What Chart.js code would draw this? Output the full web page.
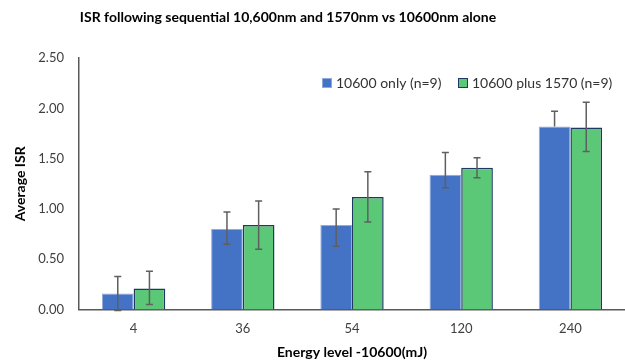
<!DOCTYPE html>
<html>
<head>
<meta charset="utf-8">
<script src="https://cdn.jsdelivr.net/npm/chart.js@4/dist/chart.umd.min.js"></script>
<style>
  body { margin: 0; background: #fff; }
  #wrap { width: 625px; height: 361px; }
</style>
</head>
<body>
<div id="wrap"><canvas id="isrChart" width="625" height="361"></canvas></div>
<script>
// data
const energyLevels = ['4', '36', '54', '120', '240'];
const only10600 = [0.16, 0.80, 0.84, 1.34, 1.82];
const only10600Up = [0.17, 0.17, 0.16, 0.22, 0.15];
const only10600Down = [0.17, 0.15, 0.21, 0.13, 0];
const plus1570 = [0.21, 0.84, 1.12, 1.41, 1.81];
const plus1570Up = [0.17, 0.24, 0.25, 0.10, 0.25];
const plus1570Down = [0.16, 0.24, 0.25, 0.10, 0.24];
const yTicks = [0, 0.5, 1, 1.5, 2, 2.5];

const titleText = 'ISR following sequential 10,600nm and 1570nm vs 10600nm alone';
const fontName = 'Lato, "Open Sans", sans-serif';

// error bars drawn from each bar's value through the y scale
const errorBarPlugin = {
    id: 'errorBars',
    afterDatasetsDraw(chart) {
        const ctx = chart.ctx;
        const yScale = chart.scales.y;
        chart.data.datasets.forEach((ds, di) => {
            const meta = chart.getDatasetMeta(di);
            meta.data.forEach((bar, i) => {
                const v = ds.data[i];
                const top = yScale.getPixelForValue(v + ds.errUp[i]);
                const bottom = yScale.getPixelForValue(v - ds.errDown[i]);
                ctx.save();
                ctx.strokeStyle = '#5f5f5f';
                ctx.lineWidth = 1.5;
                ctx.beginPath();
                ctx.moveTo(bar.x, top);
                ctx.lineTo(bar.x, bottom);
                ctx.moveTo(bar.x - 3.5, top);
                ctx.lineTo(bar.x + 3.5, top);
                if (ds.errDown[i] > 0) {
                    ctx.moveTo(bar.x - 3.5, bottom);
                    ctx.lineTo(bar.x + 3.5, bottom);
                }
                ctx.stroke();
                ctx.restore();
            });
        });
    }
};

// title sits a bit left of centre, legend sits inside the plot at top right
const textPlugin = {
    id: 'titleAndLegend',
    afterDraw(chart) {
        const ctx = chart.ctx;
        ctx.save();
        ctx.font = 'bold 14px ' + fontName;
        ctx.fillStyle = '#000';
        ctx.textAlign = 'center';
        ctx.textBaseline = 'middle';
        ctx.fillText(titleText, 288, 17);

        const legendX = [322, 458];
        const legendY = 83;
        ctx.font = '14px ' + fontName;
        ctx.textAlign = 'left';
        chart.data.datasets.forEach((ds, di) => {
            const x = legendX[di];
            ctx.fillStyle = ds.backgroundColor;
            ctx.fillRect(x, legendY - 5, 10, 10);
            ctx.strokeStyle = ds.borderColor;
            ctx.lineWidth = 1;
            ctx.strokeRect(x + 0.5, legendY - 4.5, 9, 9);
            ctx.fillStyle = '#333';
            ctx.fillText(ds.label, x + 14, legendY);
        });
        ctx.restore();
    }
};

const ctx = document.getElementById('isrChart').getContext('2d');
const isrChart = new Chart(ctx, {
    type: 'bar',
    data: {
        labels: energyLevels,
        datasets: [{
            label: '10600 only (n=9)',
            data: only10600,
            errUp: only10600Up,
            errDown: only10600Down,
            backgroundColor: '#4472C4',
            borderColor: '#8FAADC',
            borderWidth: 1
        }, {
            label: '10600 plus 1570 (n=9)',
            data: plus1570,
            errUp: plus1570Up,
            errDown: plus1570Down,
            backgroundColor: '#5BC878',
            borderColor: '#1F3864',
            borderWidth: 1.5
        }]
    },
    options: {
        responsive: false,
        animation: false,
        layout: {
            padding: { top: 58, left: 12, right: 0, bottom: 0 }
        },
        datasets: {
            bar: {
                categoryPercentage: 0.58,
                barPercentage: 1
            }
        },
        plugins: {
            legend: { display: false },
            title: { display: false },
            tooltip: { enabled: false }
        },
        scales: {
            x: {
                grid: { display: false, drawTicks: false },
                border: { display: true, color: '#595959', width: 1.5 },
                ticks: {
                    font: { family: fontName, size: 13 },
                    color: '#404040',
                    padding: 11
                },
                title: {
                    display: true,
                    text: 'Energy level -10600(mJ)',
                    font: { family: fontName, size: 14, weight: 'bold' },
                    color: '#000',
                    padding: { top: -3, bottom: 0 }
                }
            },
            y: {
                min: 0,
                max: 2.5,
                afterBuildTicks(scale) {
                    scale.ticks = yTicks.map(v => ({ value: v }));
                },
                afterFit(scale) {
                    scale.width = 67;
                },
                grid: { display: false, drawTicks: false },
                border: { display: true, color: '#595959', width: 1.5 },
                ticks: {
                    font: { family: fontName, size: 13 },
                    color: '#404040',
                    padding: 15,
                    callback: v => v.toFixed(2)
                },
                title: {
                    display: true,
                    text: 'Average ISR',
                    font: { family: fontName, size: 14, weight: 'bold' },
                    color: '#000',
                    padding: { top: 0, bottom: 0 }
                }
            }
        }
    },
    plugins: [errorBarPlugin, textPlugin]
});
</script>
</body>
</html>
